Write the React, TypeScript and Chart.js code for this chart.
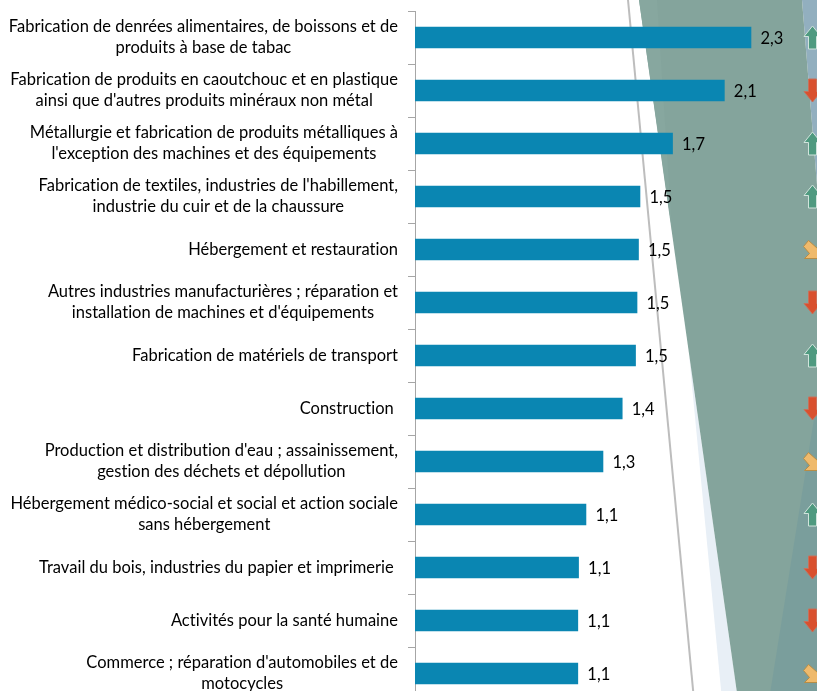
import React, { useEffect, useRef } from "react";
import { Chart, registerables } from "chart.js";

Chart.register(...registerables);

const categories: string[][] = [
  ["Fabrication de denrées alimentaires, de boissons et de", "produits à base de tabac"],
  ["Fabrication de produits en caoutchouc et en plastique", "ainsi que d'autres produits minéraux non métal"],
  ["Métallurgie et fabrication de produits métalliques à", "l'exception des machines et des équipements"],
  ["Fabrication de textiles, industries de l'habillement,", "industrie du cuir et de la chaussure"],
  ["Hébergement et restauration"],
  ["Autres industries manufacturières ; réparation et", "installation de machines et d'équipements"],
  ["Fabrication de matériels de transport"],
  ["Construction "],
  ["Production et distribution d'eau ; assainissement,", "gestion des déchets et dépollution"],
  ["Hébergement médico-social et social et action sociale", "sans hébergement"],
  ["Travail du bois, industries du papier et imprimerie "],
  ["Activités pour la santé humaine"],
  ["Commerce ; réparation d'automobiles et de", "motocycles"],
];
const values = [2.27, 2.09, 1.74, 1.52, 1.51, 1.5, 1.49, 1.4, 1.27, 1.155, 1.105, 1.1, 1.1];
const valueLabels = ["2,3", "2,1", "1,7", "1,5", "1,5", "1,5", "1,5", "1,4", "1,3", "1,1", "1,1", "1,1", "1,1"];
const trends = ["up", "down", "up", "up", "flat", "down", "up", "down", "flat", "up", "down", "down", "flat"];

const FONT = "16.5px Lato";

function poly(ctx: CanvasRenderingContext2D, pts: number[][], fill: string) {
  ctx.beginPath();
  pts.forEach(([x, y], i) => (i ? ctx.lineTo(x, y) : ctx.moveTo(x, y)));
  ctx.closePath();
  ctx.fillStyle = fill;
  ctx.fill();
}

const backdrop = {
  id: "backdrop",
  beforeDraw(chart: any) {
    const ctx: CanvasRenderingContext2D = chart.ctx;
    ctx.save();
    ctx.fillStyle = "#ffffff";
    ctx.fillRect(0, 0, chart.width, chart.height);
    poly(ctx, [[689, 354], [722, 700], [738, 700]], "#e8eff6");
    poly(ctx, [[802, 0], [817, 0], [817, 185]], "#92afbf");
    poly(ctx, [[639, 0], [802, 0], [817, 185], [817, 700], [738, 700]], "#84a49c");
    poly(ctx, [[639, 0], [657, 0], [672, 230]], "#87a79f");
    poly(ctx, [[817, 400], [817, 700], [769, 700]], "#7a9e9c");
    ctx.beginPath();
    ctx.moveTo(628, 0);
    ctx.lineTo(694, 700);
    ctx.strokeStyle = "#bdbdbd";
    ctx.lineWidth = 2;
    ctx.stroke();
    ctx.restore();
  },
};

const annotations = {
  id: "annotations",
  afterDatasetsDraw(chart: any) {
    const ctx: CanvasRenderingContext2D = chart.ctx;
    const y = chart.scales.y;
    const x = chart.scales.x;
    ctx.save();
    ctx.font = FONT;
    (ctx as any).letterSpacing = "0.01px";
    ctx.textBaseline = "middle";
    ctx.fillStyle = "#000000";
    categories.forEach((lines, i) => {
      const cy = y.getPixelForValue(i);
      const w = Math.max(...lines.map((l) => ctx.measureText(l).width));
      ctx.textAlign = "center";
      lines.forEach((l, k) => {
        const off = (k - (lines.length - 1) / 2) * 21;
        ctx.fillText(l, 398 - w / 2, cy + off);
      });
      ctx.textAlign = "left";
      ctx.fillText(valueLabels[i], x.getPixelForValue(values[i]) + 9.5, cy + 1.5);
    });
    trends.forEach((t, i) => {
      const c = y.getPixelForValue(i);
      const ax = 812.5;
      let pts: number[][];
      let fill: string;
      let edge: string;
      if (t === "up") {
        pts = [[ax, c - 11.5], [ax + 8.5, c - 1], [ax + 4, c - 1], [ax + 4, c + 11.5], [ax - 4, c + 11.5], [ax - 4, c - 1], [ax - 8.5, c - 1]];
        fill = "#4f9a80";
        edge = "#d0e4dc";
      } else if (t === "down") {
        pts = [[ax, c + 11.5], [ax + 8.5, c + 1], [ax + 4, c + 1], [ax + 4, c - 11.5], [ax - 4, c - 11.5], [ax - 4, c + 1], [ax - 8.5, c + 1]];
        fill = "#d9502e";
        edge = "#c9705a";
      } else {
        pts = [[ax - 4, c - 9], [ax + 5, c - 1], [ax + 9, c - 5], [ax + 9, c + 9], [ax - 8, c + 9], [ax - 3, c + 4], [ax - 9, c - 3]];
        fill = "#efba6c";
        edge = "#b78d46";
      }
      poly(ctx, pts, fill);
      ctx.strokeStyle = edge;
      ctx.lineWidth = 1;
      ctx.stroke();
    });
    ctx.restore();
  },
};

export default function App() {
  const ref = useRef<HTMLCanvasElement>(null);
  useEffect(() => {
    document.body.style.margin = "0";
    const chart = new Chart(ref.current!, {
      type: "bar",
      data: {
        labels: categories.map((c) => c.join(" ")),
        datasets: [
          {
            data: values,
            backgroundColor: "#0a86b2",
            barThickness: 21,
          },
        ],
      },
      options: {
        indexAxis: "y",
        animation: false,
        responsive: false,
        layout: { padding: { top: 11, bottom: 0, left: 0, right: 0 } },
        plugins: { legend: { display: false }, tooltip: { enabled: false } },
        scales: {
          x: {
            display: false,
            min: 0,
            max: 2.716,
          },
          y: {
            afterFit: (s: any) => {
              s.width = 415;
            },
            ticks: { display: false },
            grid: {
              offset: true,
              drawOnChartArea: false,
              drawTicks: true,
              tickLength: 7,
              color: "#a6a6a6",
            },
            border: { color: "#a6a6a6", width: 1 },
          },
        },
      },
      plugins: [backdrop, annotations],
    } as any);
    return () => chart.destroy();
  }, []);
  return (
    <div style={{ position: "fixed", left: 0, top: 0, width: 817, height: 691, overflow: "hidden" }}>
      <canvas ref={ref} width={817} height={700} style={{ display: "block" }} />
    </div>
  );
}
